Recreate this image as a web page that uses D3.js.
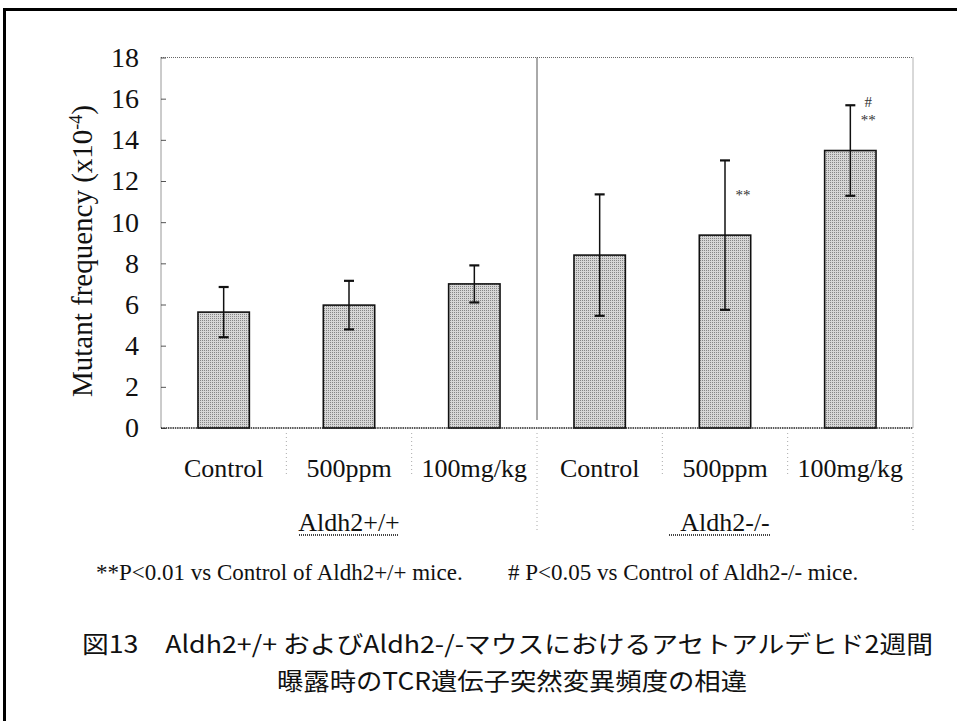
<!DOCTYPE html>
<html>
<head>
<meta charset="utf-8">
<title>Aldh2 TCR mutant frequency</title>
<script src="https://cdn.jsdelivr.net/npm/d3@7/dist/d3.min.js"></script>
<style>
    body { margin: 0; background: #fff; }
    svg text {
        font-family: "Liberation Serif", "Times New Roman", serif;
        fill: #111;
    }
    svg text.jp { font-family: "Noto Sans CJK JP", sans-serif; }
</style>
</head>
<body>
<script>
    // values
    var categories = ['Control', '500ppm', '100mg/kg', 'Control', '500ppm', '100mg/kg'];
    var groups = ['Aldh2+/+', 'Aldh2-/-'];
    var means = [5.63, 5.97, 7.0, 8.4, 9.37, 13.48];
    var sds = [1.22, 1.18, 0.9, 2.95, 3.63, 2.2];
    var yTicks = [0, 2, 4, 6, 8, 10, 12, 14, 16, 18];
    var marks = [
        { i: 4, text: '**', v: 11.5 },
        { i: 5, text: '#', v: 16.0 },
        { i: 5, text: '**', v: 15.1 }
    ];
    var footnote = ['**P<0.01 vs Control of Aldh2+/+ mice.', '# P<0.05 vs Control of Aldh2-/- mice.'];
    var caption = ['図13\u3000Aldh2+/+ およびAldh2-/-マウスにおけるアセトアルデヒド2週間',
                   '曝露時のTCR遺伝子突然変異頻度の相違'];

    var W = 957, H = 721;
    var pL = 161, pR = 913, pT = 57.5, pB = 428;

    var svg = d3.select('body').append('svg')
        .attr('width', W)
        .attr('height', H);

    // stipple fill for the bars
    var pat = svg.append('defs').append('pattern')
        .attr('id', 'stip')
        .attr('width', 2).attr('height', 2)
        .attr('patternUnits', 'userSpaceOnUse');
    pat.append('rect').attr('width', 2).attr('height', 2).attr('fill', '#d6d6d6');
    pat.append('rect').attr('width', 1).attr('height', 1).attr('fill', '#858585');

    // page frame (top and left edges of the scanned figure)
    svg.append('line').attr('x1', 3).attr('x2', W).attr('y1', 9.5).attr('y2', 9.5)
        .style('stroke', '#000').style('stroke-width', 3);
    svg.append('line').attr('x1', 4.5).attr('x2', 4.5).attr('y1', 8).attr('y2', H)
        .style('stroke', '#000').style('stroke-width', 3);

    var x = d3.scaleBand()
        .domain(d3.range(categories.length))
        .range([pL, pR])
        .paddingInner(0.59)
        .paddingOuter(0.295);

    var y = d3.scaleLinear()
        .domain([0, 18])
        .range([pB, pT]);

    var step = x.step();

    // plot frame: dotted top / right
    svg.append('path')
        .attr('d', 'M' + pL + ',' + pT + 'H' + pR + 'V' + pB)
        .style('fill', 'none')
        .style('stroke', '#666')
        .style('stroke-dasharray', '1,1');

    // group divider
    svg.append('line')
        .attr('x1', pL + 3 * step).attr('x2', pL + 3 * step)
        .attr('y1', pT).attr('y2', pB - 8)
        .style('stroke', '#555').style('stroke-width', 1);

    // separators under the axis
    d3.range(1, 7).forEach(function(k) {
        var long = (k === 3 || k === 6);
        svg.append('line')
            .attr('x1', pL + k * step).attr('x2', pL + k * step)
            .attr('y1', pB + 5).attr('y2', long ? 530 : 476)
            .style('stroke', '#aaa')
            .style('stroke-dasharray', '1,3');
    });

    // y axis
    var yax = d3.axisLeft(y)
        .tickValues(yTicks)
        .tickSizeInner(-5)
        .tickSizeOuter(0)
        .tickPadding(22);

    var gy = svg.append('g')
        .attr('transform', 'translate(' + pL + ',0)')
        .call(yax);
    gy.select('.domain').remove();
    gy.selectAll('.tick line').style('stroke', '#555');
    gy.selectAll('.tick text')
        .style('font-family', '"Liberation Serif", serif')
        .style('font-size', '28px')
        .style('fill', '#111');

    svg.append('line')
        .attr('x1', pL).attr('x2', pL)
        .attr('y1', pT).attr('y2', pB)
        .style('stroke', '#333').style('stroke-dasharray', '1,1');

    // bars
    svg.append('g').selectAll('rect')
        .data(means).enter()
        .append('rect')
        .attr('x', function(d, i) { return x(i); })
        .attr('y', function(d) { return y(d); })
        .attr('width', x.bandwidth())
        .attr('height', function(d) { return y(0) - y(d); })
        .style('fill', 'url(#stip)')
        .style('stroke', '#111')
        .style('stroke-width', 1.6);

    // x axis line
    svg.append('line')
        .attr('x1', pL).attr('x2', pR)
        .attr('y1', pB).attr('y2', pB)
        .style('stroke', '#222').style('stroke-width', 1.6)
        .style('stroke-dasharray', '1.5,0.8');

    // error bars
    var eb = svg.append('g').selectAll('g')
        .data(means).enter()
        .append('g')
        .attr('transform', function(d, i) { return 'translate(' + (x(i) + x.bandwidth() / 2) + ',0)'; })
        .style('stroke', '#111')
        .style('stroke-width', 1.5);

    eb.append('line')
        .attr('y1', function(d, i) { return y(d + sds[i]); })
        .attr('y2', function(d, i) { return y(d - sds[i]); });
    eb.append('line')
        .attr('x1', -5).attr('x2', 5)
        .attr('y1', function(d, i) { return y(d + sds[i]); })
        .attr('y2', function(d, i) { return y(d + sds[i]); })
        .style('stroke-width', 2.2);
    eb.append('line')
        .attr('x1', -5).attr('x2', 5)
        .attr('y1', function(d, i) { return y(d - sds[i]); })
        .attr('y2', function(d, i) { return y(d - sds[i]); })
        .style('stroke-width', 2.2);

    // significance marks
    svg.append('g').selectAll('text')
        .data(marks).enter()
        .append('text')
        .attr('x', function(d) { return x(d.i) + x.bandwidth() / 2 + 18; })
        .attr('y', function(d) { return y(d.v); })
        .attr('dy', '0.55em')
        .attr('text-anchor', 'middle')
        .style('font-size', '15px')
        .style('fill', '#333')
        .text(function(d) { return d.text; });

    // category labels
    svg.append('g').selectAll('text')
        .data(categories).enter()
        .append('text')
        .attr('x', function(d, i) { return x(i) + x.bandwidth() / 2; })
        .attr('y', 477)
        .attr('text-anchor', 'middle')
        .style('font-size', '26px')
        .text(function(d) { return d; });

    // group labels with dotted underline
    var gl = svg.append('g').selectAll('g')
        .data(groups).enter()
        .append('g')
        .attr('transform', function(d, i) { return 'translate(' + (pL + (1.5 + 3 * i) * step) + ',531)'; });
    gl.append('text')
        .attr('text-anchor', 'middle')
        .style('font-size', '26px')
        .text(function(d) { return d; });
    gl.append('line')
        .attr('x1', function(d, i) { return i === 0 ? -50 : -56; })
        .attr('x2', function(d, i) { return i === 0 ? 50 : 46; })
        .attr('y1', 4).attr('y2', 4)
        .style('stroke', '#444')
        .style('stroke-width', 2)
        .style('stroke-dasharray', '1,1');

    // footnote
    var fn = svg.append('text')
        .attr('y', 580)
        .style('font-size', '23px');
    fn.append('tspan').attr('x', 96).text(footnote[0]);
    fn.append('tspan').attr('x', 508).text(footnote[1]);

    // caption
    svg.append('text')
        .attr('class', 'jp')
        .attr('x', 82).attr('y', 653)
        .attr('textLength', 851)
        .attr('lengthAdjust', 'spacingAndGlyphs')
        .style('font-size', '24px')
        .text(caption[0]);
    svg.append('text')
        .attr('class', 'jp')
        .attr('x', 277).attr('y', 690)
        .attr('textLength', 470)
        .attr('lengthAdjust', 'spacingAndGlyphs')
        .style('font-size', '24px')
        .text(caption[1]);

    // y title
    var yt = svg.append('text')
        .attr('transform', 'translate(92,251) rotate(-90)')
        .attr('text-anchor', 'middle')
        .style('font-size', '29px');
    yt.append('tspan').text('Mutant frequency (x10');
    yt.append('tspan').attr('dy', '-0.55em').style('font-size', '18px').text('-4');
    yt.append('tspan').attr('dy', '0.35em').text(')');
</script>
</body>
</html>
